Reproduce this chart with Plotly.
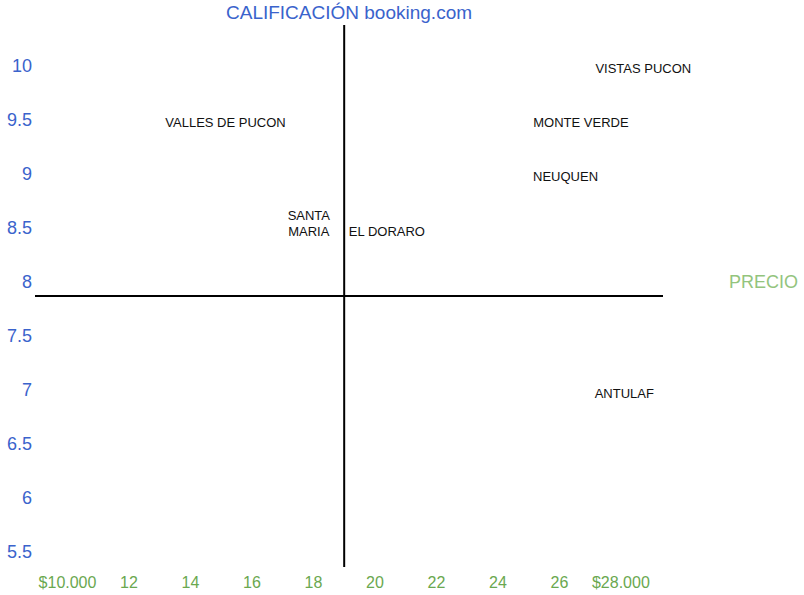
import plotly.graph_objects as go

# ---- data ----
hotels = ["VISTAS PUCON", "MONTE VERDE", "NEUQUEN", "VALLES DE PUCON",
          "SANTA<br>MARIA", "EL DORARO", "ANTULAF"]
price = [28.73, 26.70, 26.20, 15.14, 17.85, 20.39, 28.11]      # thousands of $
rating = [9.97, 9.465, 8.965, 9.465, 8.53, 8.46, 6.955]        # booking.com score

x_tickvals = [10, 12, 14, 16, 18, 20, 22, 24, 26, 28]
x_ticktext = ["$10.000", "12", "14", "16", "18", "20", "22", "24", "26", "$28.000"]
y_tickvals = [10, 9.5, 9, 8.5, 8, 7.5, 7, 6.5, 6, 5.5]
y_ticktext = ["10", "9.5", "9", "8.5", "8", "7.5", "7", "6.5", "6", "5.5"]

price_mid = 19      # vertical divider
rating_mid = 7.87   # horizontal divider

FONT = "Arial, Liberation Sans, sans-serif"
BLUE = "#3a63cc"
GREEN = "#6aa84f"
LIGHT_GREEN = "#93c47d"

fig = go.Figure()
fig.add_trace(go.Scatter(
    x=price, y=rating, text=hotels, mode="text",
    textposition="middle center", cliponaxis=False,
    textfont=dict(family=FONT, size=13, color="#111111"),
    hoverinfo="skip", showlegend=False,
))

fig.add_shape(type="line", xref="x", yref="y domain",
              x0=price_mid, x1=price_mid, y0=0, y1=1,
              line=dict(color="black", width=2))
fig.add_shape(type="line", xref="x domain", yref="y",
              x0=0, x1=1, y0=rating_mid, y1=rating_mid,
              line=dict(color="black", width=2))

fig.add_annotation(text="CALIFICACIÓN booking.com", xref="x", yref="paper",
                   x=price_mid, y=1, xanchor="center", yanchor="bottom",
                   xshift=5, yshift=0, showarrow=False,
                   font=dict(family=FONT, size=19, color=BLUE))
fig.add_annotation(text="PRECIO", xref="paper", yref="y",
                   x=1, y=8, xanchor="left", yanchor="middle",
                   xshift=64, showarrow=False,
                   font=dict(family=FONT, size=18, color=LIGHT_GREEN))

fig.update_layout(
    width=804, height=595,
    margin=dict(l=35, r=141, t=25, b=28),
    paper_bgcolor="white", plot_bgcolor="white",
    xaxis=dict(range=[8.943, 29.37], tickvals=x_tickvals, ticktext=x_ticktext,
               showgrid=False, zeroline=False, showline=False, ticks="",
               automargin=False, ticklabelstandoff=4,
               tickfont=dict(family=FONT, size=16, color=GREEN)),
    yaxis=dict(range=[5.361, 10.38], tickvals=y_tickvals, ticktext=y_ticktext,
               showgrid=False, zeroline=False, showline=False, ticks="",
               automargin=False, ticklabelstandoff=2,
               tickfont=dict(family=FONT, size=18, color=BLUE)),
)

fig.write_html("out.html",
               config={"displayModeBar": False},
               post_script="document.body.style.margin='0';"
                           "document.body.style.overflow='hidden';")
